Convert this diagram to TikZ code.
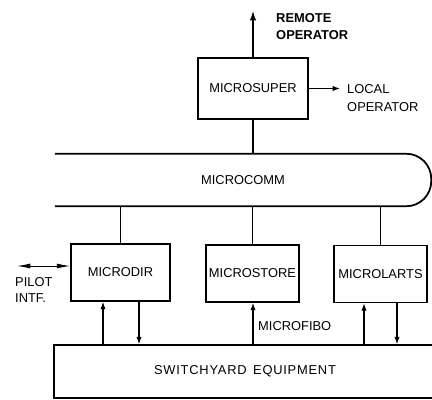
\documentclass[tikz,border=0pt]{standalone}
\usepackage{fontspec}
\setmainfont{Liberation Sans}
\usetikzlibrary{arrows.meta}

\tikzset{
  unitbox/.style={draw,line width=1.5pt,minimum width=2.79cm,minimum height=1.71cm,inner sep=0pt},
  tag/.style={inner sep=0pt,align=left,anchor=west},
  link/.style={line width=0.9pt},
  sig/.style={line width=0.9pt,-{Latex[length=2.2mm,width=1.6mm]}},
  pilotsig/.style={line width=0.8pt,{Latex[length=4mm,width=1.5mm]}-{Latex[length=4mm,width=1.5mm]}},
}

\begin{document}
\begin{tikzpicture}[x=0.03cm,y=-0.03cm,font=\fontsize{11}{13.6}\selectfont]
\clip (0,0) rectangle (432,399);
% supervisor and operators
\node[unitbox,minimum width=3.3cm,minimum height=1.83cm] (super) at (253,88.5) {MICROSUPER};
\node[tag,font=\fontsize{11}{14.5}\selectfont\bfseries] (remote) at (276,27) {REMOTE\\OPERATOR};
\node[tag,font=\fontsize{11}{15.3}\selectfont] (local) at (347,98) {LOCAL\\OPERATOR};
\coordinate (rtip) at (253,11);
\coordinate (ltip) at (340,88.5);
\draw[sig,-{Latex[length=2.8mm,width=1.9mm]}] (super.north) -- (rtip);
\draw[sig] (super.east) -- (ltip);

% communication bus
\node[minimum width=11.28cm,minimum height=1.56cm,inner sep=0pt] (comm) at (243,180) {MICROCOMM};
\draw[line width=1.5pt,rounded corners=0.75cm] (comm.north west) -- (comm.north east)
  -- (comm.south east) -- (comm.south west);
\draw[link] (super.south) -- (super.south |- comm.north);

% local units
\node[unitbox,minimum width=2.97cm] (dir) at (120.5,272.5) {MICRODIR};
\node[unitbox] (store) at (252.5,273.5) {MICROSTORE};
\node[unitbox] (larts) at (380.5,274) {MICROLARTS};
\foreach \unit in {dir,store,larts}
  \draw[link] (\unit.north) -- (\unit.north |- comm.south);

\coordinate (ptip) at (17,266);
\draw[pilotsig] (ptip) -- (ptip -| dir.west);
\node[tag] (pilot) at (15,290) {PILOT\\INTF.};

% plant
\node[draw,line width=1.5pt,minimum width=11.46cm,minimum height=1.59cm,inner sep=0pt] (sy) at (245,371.5)
  {\addfontfeatures{LetterSpace=6}SWITCHYARD\hspace{0.5em}EQUIPMENT};
\draw[sig] (103,0 |- sy.north) -- (103,0 |- dir.south);
\draw[sig] (139,0 |- dir.south) -- (139,0 |- sy.north);
\draw[sig] (253,0 |- sy.north) -- (253,0 |- store.south);
\draw[sig] (364,0 |- sy.north) -- (364,0 |- larts.south);
\draw[sig] (397,0 |- larts.south) -- (397,0 |- sy.north);
\node[tag] (fibo) at (258,326) {MICROFIBO};
\end{tikzpicture}
\end{document}
